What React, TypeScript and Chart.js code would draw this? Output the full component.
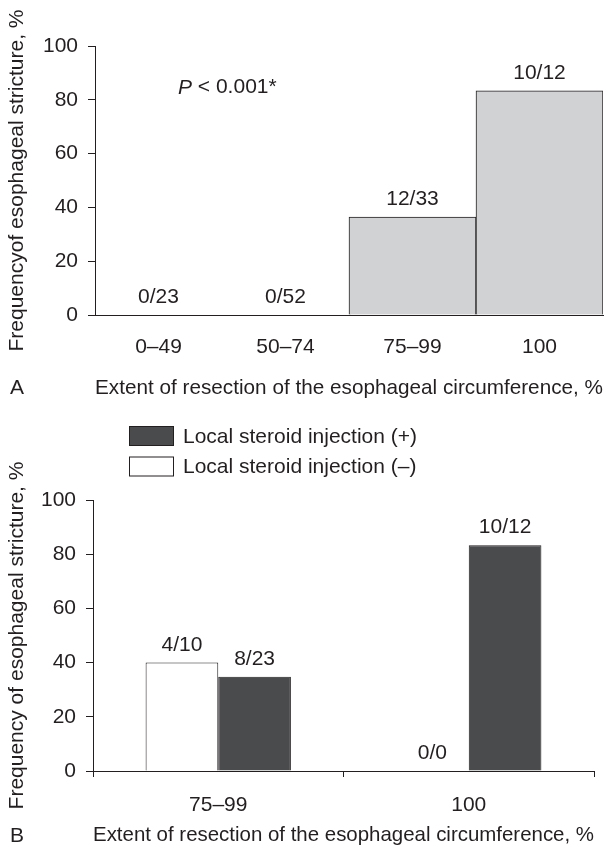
import { useEffect, useRef } from 'react';
import { Chart, registerables } from 'chart.js';

Chart.register(...registerables);

const FONT = "'Liberation Sans', Arial, Helvetica, sans-serif";
const INK = '#231f20';
const FS = 21;

// Panel A data
const categoriesA = ['0–49', '50–74', '75–99', '100'];
const frequencyA = [0, 0, 36.4, 83.3];
const countLabelsA = ['0/23', '0/52', '12/33', '10/12'];

// Panel B data
const categoriesB = ['75–99', '100'];
const seriesNoSteroid = 'Local steroid injection (–)';
const seriesSteroid = 'Local steroid injection (+)';
const frequencyNoSteroid = [40, 0];
const frequencySteroid = [34.8, 83.3];
const countLabelsNoSteroid = ['4/10', '0/0'];
const countLabelsSteroid = ['8/23', '10/12'];

const yMin = 0;
const yMax = 100;
const yStep = 20;

const yTitleA = 'Frequencyof esophageal stricture, %';
const yTitleB = 'Frequency of esophageal stricture, %';
const xTitle = 'Extent of resection of the esophageal circumference, %';

const countLabelPlugin = {
  id: 'countLabels',
  afterDatasetsDraw(chart: any) {
    const ctx = chart.ctx;
    ctx.save();
    ctx.fillStyle = INK;
    ctx.font = `${FS}px ${FONT}`;
    ctx.textAlign = 'center';
    ctx.textBaseline = 'alphabetic';
    chart.data.datasets.forEach((ds: any, i: number) => {
      const meta = chart.getDatasetMeta(i);
      meta.data.forEach((bar: any, j: number) => {
        const t = ds.countLabels?.[j];
        if (t) ctx.fillText(t, bar.x, bar.y - 12);
      });
    });
    ctx.restore();
  },
};

const panelLetterPlugin = {
  id: 'panelLetter',
  afterDraw(chart: any, _args: any, opts: any) {
    const ctx = chart.ctx;
    ctx.save();
    ctx.fillStyle = INK;
    ctx.font = `${FS}px ${FONT}`;
    ctx.textAlign = 'center';
    ctx.textBaseline = 'middle';
    ctx.fillText(opts.letter, opts.x, opts.y);
    ctx.restore();
  },
};

const pValuePlugin = {
  id: 'pValue',
  afterDraw(chart: any, _args: any, opts: any) {
    if (!opts || !opts.show) return;
    const ctx = chart.ctx;
    const y = chart.scales.y.getPixelForValue(opts.value);
    const x = chart.scales.x.left + opts.dx;
    ctx.save();
    ctx.fillStyle = INK;
    ctx.textBaseline = 'middle';
    ctx.textAlign = 'left';
    ctx.font = `italic ${FS}px ${FONT}`;
    ctx.fillText('P', x, y);
    const w = ctx.measureText('P ').width;
    ctx.font = `${FS}px ${FONT}`;
    ctx.fillText('< 0.001*', x + w, y);
    ctx.restore();
  },
};

const stackedLegendPlugin = {
  id: 'stackedLegend',
  afterDraw(chart: any, _args: any, opts: any) {
    if (!opts || !opts.show) return;
    const ctx = chart.ctx;
    const items = [...chart.data.datasets].reverse();
    ctx.save();
    ctx.font = `${FS}px ${FONT}`;
    ctx.textBaseline = 'middle';
    ctx.textAlign = 'left';
    items.forEach((ds: any, i: number) => {
      const top = opts.top + i * opts.spacing;
      ctx.fillStyle = ds.backgroundColor;
      ctx.fillRect(opts.x, top, opts.boxW, opts.boxH);
      ctx.strokeStyle = INK;
      ctx.lineWidth = 1;
      ctx.strokeRect(opts.x + 0.5, top + 0.5, opts.boxW - 1, opts.boxH - 1);
      ctx.fillStyle = INK;
      ctx.fillText(ds.label, opts.x + opts.boxW + 9, top + opts.boxH / 2 + 1);
    });
    ctx.restore();
  },
};

function yScale(title: string, width: number) {
  return {
    min: yMin,
    max: yMax,
    ticks: { stepSize: yStep, color: INK, padding: 10, font: { size: FS, family: FONT } },
    grid: { display: true, drawOnChartArea: false, drawTicks: true, tickLength: 7, color: INK },
    border: { display: true, color: INK, width: 1 },
    title: { display: true, text: title, color: INK, padding: 5, font: { size: FS, family: FONT } },
    afterFit(s: any) {
      s.width = width;
    },
  };
}

function PanelA() {
  const ref = useRef<HTMLCanvasElement>(null);
  useEffect(() => {
    const chart = new Chart(ref.current!, {
      type: 'bar',
      data: {
        labels: categoriesA,
        datasets: [
          {
            label: 'Frequency',
            data: frequencyA,
            backgroundColor: '#d1d2d4',
            borderColor: INK,
            borderWidth: 1,
            barPercentage: 1,
            categoryPercentage: 1,
            countLabels: countLabelsA,
          } as any,
        ],
      },
      options: {
        responsive: false,
        animation: false,
        devicePixelRatio: 1,
        layout: { padding: { top: 46, right: 7, left: 0, bottom: 0 } },
        plugins: {
          legend: { display: false },
          tooltip: { enabled: false },
          panelLetter: { letter: 'A', x: 17, y: 388 },
          pValue: { show: true, value: 84.5, dx: 83 },
        } as any,
        scales: {
          x: {
            ticks: { color: INK, padding: 20, font: { size: FS, family: FONT } },
            grid: { display: false, drawTicks: false },
            border: { display: true, color: INK, width: 1 },
            title: { display: true, text: xTitle, color: INK, padding: { top: 0, bottom: 9 }, font: { size: FS, family: FONT } },
            afterFit(s: any) {
              s.height = 95;
            },
          },
          y: yScale(yTitleA, 95) as any,
        },
      },
      plugins: [countLabelPlugin, panelLetterPlugin, pValuePlugin],
    });
    return () => chart.destroy();
  }, []);
  return <canvas ref={ref} width={610} height={410} style={{ display: 'block' }} />;
}

function PanelB() {
  const ref = useRef<HTMLCanvasElement>(null);
  useEffect(() => {
    const chart = new Chart(ref.current!, {
      type: 'bar',
      data: {
        labels: categoriesB,
        datasets: [
          {
            label: seriesNoSteroid,
            data: frequencyNoSteroid,
            backgroundColor: '#ffffff',
            borderColor: INK,
            borderWidth: 1,
            barPercentage: 1,
            categoryPercentage: 0.58,
            countLabels: countLabelsNoSteroid,
          } as any,
          {
            label: seriesSteroid,
            data: frequencySteroid,
            backgroundColor: '#4a4b4d',
            borderColor: INK,
            borderWidth: 1,
            barPercentage: 1,
            categoryPercentage: 0.58,
            countLabels: countLabelsSteroid,
          } as any,
        ],
      },
      options: {
        responsive: false,
        animation: false,
        devicePixelRatio: 1,
        layout: { padding: { top: 90, right: 16, left: 0, bottom: 0 } },
        plugins: {
          legend: { display: false },
          tooltip: { enabled: false },
          panelLetter: { letter: 'B', x: 17, y: 426 },
          stackedLegend: { show: true, x: 129, top: 16, spacing: 30.5, boxW: 45, boxH: 20 },
        } as any,
        scales: {
          x: {
            ticks: { color: INK, padding: 16, font: { size: FS, family: FONT } },
            grid: { display: true, drawOnChartArea: false, drawTicks: true, tickLength: 6, color: INK, offset: true },
            border: { display: true, color: INK, width: 1 },
            title: { display: true, text: xTitle, color: INK, padding: { top: 0, bottom: -1 }, font: { size: FS, family: FONT, lineHeight: 1 } },
            afterFit(s: any) {
              s.height = 74;
            },
          },
          y: yScale(yTitleB, 93) as any,
        },
      },
      plugins: [countLabelPlugin, panelLetterPlugin, stackedLegendPlugin],
    });
    return () => chart.destroy();
  }, []);
  return <canvas ref={ref} width={610} height={435} style={{ display: 'block' }} />;
}

export default function App() {
  useEffect(() => {
    document.body.style.margin = '0';
  }, []);
  return (
    <div style={{ width: 610, height: 845, background: '#fff' }}>
      <PanelA />
      <PanelB />
    </div>
  );
}
